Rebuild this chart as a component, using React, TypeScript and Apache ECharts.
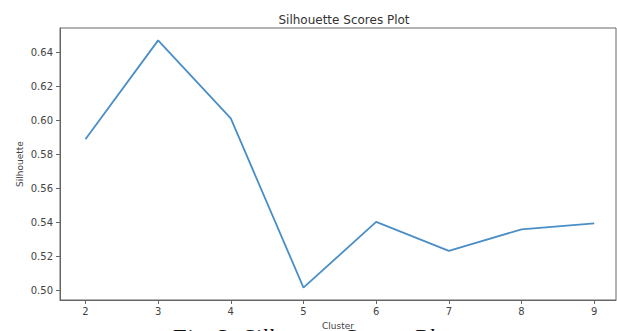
import React, { useEffect, useRef } from "react";
import * as echarts from "echarts";

const clusters = [2, 3, 4, 5, 6, 7, 8, 9];
const silhouette = [0.5889, 0.6472, 0.6012, 0.5015, 0.5402, 0.5232, 0.5358, 0.5393];
const yTicks = [0.5, 0.52, 0.54, 0.56, 0.58, 0.6, 0.62, 0.64];
const xTicks = [2, 3, 4, 5, 6, 7, 8, 9];
const titleText = "Silhouette Scores Plot";
const xName = "Cluster";
const yName = "Silhouette";
const captionText = "Fig. 3: Silhouette Scores Plot";

export default function App() {
  const ref = useRef<HTMLDivElement>(null);
  useEffect(() => {
    if (!ref.current) return;
    const chart = echarts.init(ref.current, null, { renderer: "svg" });
    const font = "DejaVu Sans";
    chart.setOption({
      animation: false,
      backgroundColor: "#ffffff",
      title: {
        text: titleText,
        left: 339,
        top: 9,
        textAlign: "center",
        textStyle: { fontFamily: font, fontSize: 12, fontWeight: "normal", color: "#333" },
      },
      grid: {
        left: 60,
        top: 28,
        right: 1,
        bottom: 31,
        outerBoundsMode: "none",
        containLabel: false,
        show: true,
        borderColor: "#666",
        borderWidth: 1,
        backgroundColor: "transparent",
      },
      xAxis: {
        type: "value",
        min: 1.65,
        max: 9.3,
        name: xName,
        nameLocation: "middle",
        nameGap: 21,
        nameMoveOverlap: false,
        nameTextStyle: { fontFamily: font, fontSize: 9, color: "#444" },
        axisLine: { show: true, lineStyle: { color: "#666", width: 1 } },
        axisTick: { show: true, length: 4, customValues: xTicks, lineStyle: { color: "#666" } },
        axisLabel: {
          customValues: xTicks,
          margin: 6,
          fontFamily: font,
          fontSize: 10,
          color: "#444",
          formatter: (v: number) => String(v),
        },
        splitLine: { show: false },
      },
      yAxis: {
        type: "value",
        min: 0.4942,
        max: 0.6545,
        name: yName,
        nameLocation: "middle",
        nameRotate: 90,
        nameGap: 36,
        nameMoveOverlap: false,
        nameTextStyle: { fontFamily: font, fontSize: 9, color: "#444" },
        axisLine: { show: true, lineStyle: { color: "#666", width: 1 } },
        axisTick: { show: true, length: 4, customValues: yTicks, lineStyle: { color: "#666" } },
        axisLabel: {
          customValues: yTicks,
          margin: 7,
          fontFamily: font,
          fontSize: 10,
          color: "#444",
          formatter: (v: number) => v.toFixed(2),
        },
        splitLine: { show: false },
      },
      series: [
        {
          type: "line",
          data: clusters.map((c, i) => [c, silhouette[i]]),
          showSymbol: false,
          symbol: "none",
          lineStyle: { color: "#4a8ec6", width: 1.8 },
        },
      ],
      graphic: {
        z: -10,
        elements: [
          {
            type: "text",
            left: 171,
            top: 325,
            z: -10,
            style: {
              text: captionText,
              font: "italic 24px 'Liberation Serif'",
              fill: "#111",
            },
          },
        ],
      },
    });
    return () => chart.dispose();
  }, []);
  return (
    <div
      ref={ref}
      style={{ position: "absolute", left: 0, top: 0, width: 617, height: 331 }}
    />
  );
}
